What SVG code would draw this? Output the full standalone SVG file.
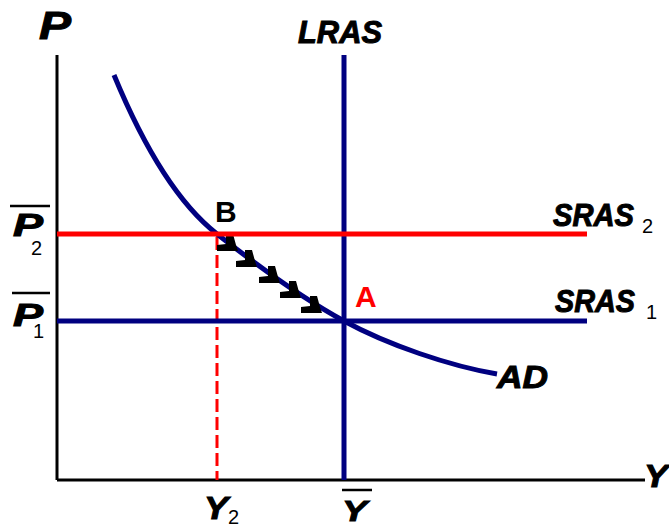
<svg xmlns="http://www.w3.org/2000/svg" width="669" height="529" viewBox="0 0 669 529">
<style>
.lbl{font-family:"Liberation Sans",Arial,sans-serif;font-weight:bold;font-style:italic;fill:#000;stroke:#000;stroke-width:1}
.sub{font-family:"Liberation Sans",Arial,sans-serif;font-size:20px;fill:#000}
.pt{font-family:"Liberation Sans",Arial,sans-serif;font-weight:bold;font-size:30px}
.axis{stroke:#000;stroke-width:3;fill:none}
.blue{stroke:#000080;stroke-width:5;fill:none}
.red{stroke:#ff0000;stroke-width:5;fill:none}
</style>
<defs>
<path id="ah" d="M0,0 L-21,0 L-21,-6 L-12,-7 L-12,-17 L-5,-17 L-2,-6 Z" fill="#000"/>
</defs>
<rect width="669" height="529" fill="#fff"/>
<g id="axes">
<line class="axis" x1="57" y1="55" x2="57" y2="480"/>
<line class="axis" x1="57" y1="480" x2="645" y2="480"/>
<text class="lbl" x="39" y="39" font-size="38" textLength="32" lengthAdjust="spacingAndGlyphs">P</text>
<text class="lbl" x="644" y="487" font-size="32" textLength="24" lengthAdjust="spacingAndGlyphs">Y</text>
</g>
<g id="connectors">
<line x1="217" y1="237" x2="217" y2="480" stroke="#ff0000" stroke-width="3" stroke-dasharray="13 5"/>
<path class="blue" stroke-width="4.5" d="M114,75 C145,150 180,205 217,234 S300,297 344,321 S450,366 497,374"/>
<use href="#ah" x="238" y="251"/>
<use href="#ah" x="257" y="267"/>
<use href="#ah" x="280" y="283"/>
<use href="#ah" x="301" y="298"/>
<use href="#ah" x="322" y="313"/>
</g>
<g id="LRAS">
<line class="blue" x1="344" y1="55" x2="344" y2="480"/>
<text class="lbl" x="298" y="43" font-size="32" textLength="84" lengthAdjust="spacingAndGlyphs">LRAS</text>
</g>
<g id="SRAS2">
<line class="red" x1="57" y1="234" x2="587" y2="234"/>
<text class="lbl" x="553" y="226" font-size="32" textLength="81" lengthAdjust="spacingAndGlyphs">SRAS</text>
<text class="sub" x="642" y="233">2</text>
</g>
<g id="SRAS1">
<line class="blue" x1="57" y1="321" x2="587" y2="321"/>
<text class="lbl" x="555" y="312" font-size="32" textLength="80" lengthAdjust="spacingAndGlyphs">SRAS</text>
<text class="sub" x="646" y="319">1</text>
</g>
<g id="AD">
<text class="lbl" x="497" y="388" font-size="32" textLength="51" lengthAdjust="spacingAndGlyphs">AD</text>
</g>
<g id="pointB">
<text class="pt" x="215" y="222" fill="#000">B</text>
</g>
<g id="pointA">
<text class="pt" x="355" y="307" fill="#ff0000">A</text>
</g>
<g id="P2label">
<line x1="10" y1="206" x2="50" y2="206" stroke="#000" stroke-width="2.5"/>
<text class="lbl" x="13" y="236" font-size="32" textLength="30" lengthAdjust="spacingAndGlyphs">P</text>
<text class="sub" x="31" y="255">2</text>
</g>
<g id="P1label">
<line x1="12" y1="293" x2="50" y2="293" stroke="#000" stroke-width="2.5"/>
<text class="lbl" x="13" y="326" font-size="32" textLength="30" lengthAdjust="spacingAndGlyphs">P</text>
<text class="sub" x="33" y="338">1</text>
</g>
<g id="Y2label">
<text class="lbl" x="204" y="519" font-size="32" textLength="24" lengthAdjust="spacingAndGlyphs">Y</text>
<text class="sub" x="228" y="524">2</text>
</g>
<g id="Ybarlabel">
<line x1="342" y1="490" x2="372" y2="490" stroke="#000" stroke-width="2.5"/>
<text class="lbl" x="342" y="521" font-size="30" textLength="25" lengthAdjust="spacingAndGlyphs">Y</text>
</g>
</svg>
